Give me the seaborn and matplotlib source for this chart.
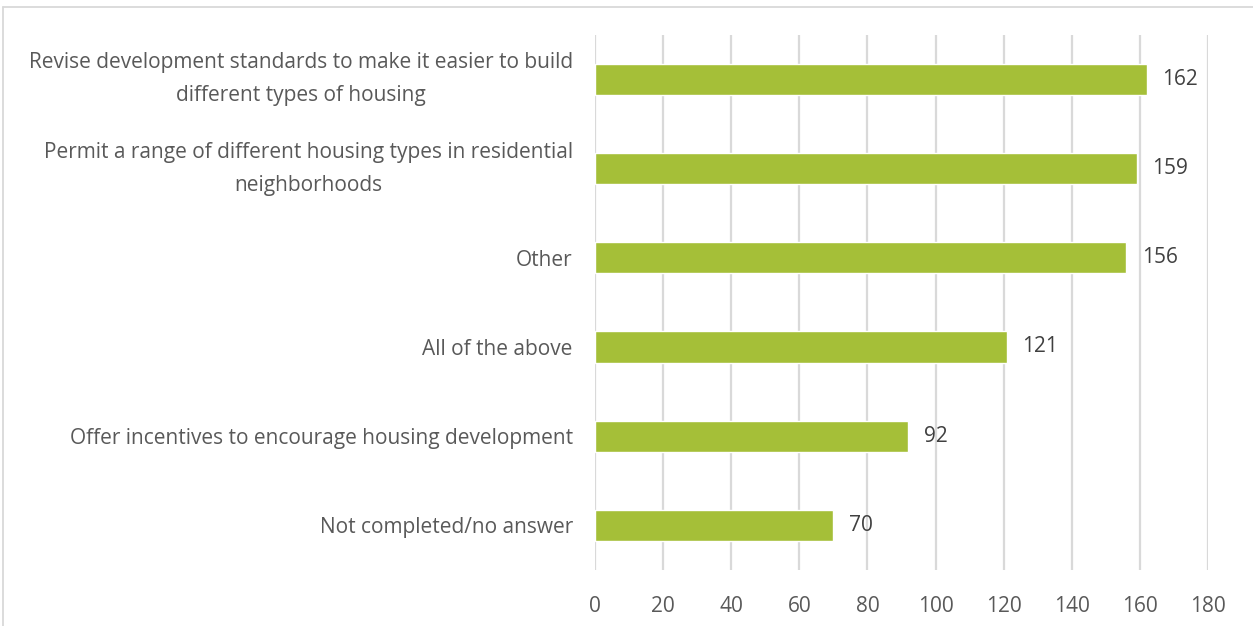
import matplotlib
matplotlib.use("Agg")
import matplotlib.pyplot as plt
import seaborn as sns
import pandas as pd

categories = [
    "Revise development standards to make it easier to build\ndifferent types of housing",
    "Permit a range of different housing types in residential\nneighborhoods",
    "Other",
    "All of the above",
    "Offer incentives to encourage housing development",
    "Not completed/no answer",
]
counts = [162, 159, 156, 121, 92, 70]
x_ticks = [0, 20, 40, 60, 80, 100, 120, 140, 160, 180]

df = pd.DataFrame({"category": categories, "count": counts})

sns.set_theme(style="white")
plt.rcParams["font.family"] = ["Open Sans", "DejaVu Sans"]

fig = plt.figure(figsize=(12.53, 6.26), dpi=100)
ax = fig.add_axes([0.4749, 0.0895, 0.4892, 0.855])

sns.barplot(data=df, x="count", y="category", color="#A5BF38", saturation=1,
            width=0.35, ax=ax, orient="h")

ax.set_xlim(0, 180)
ax.set_xticks(x_ticks)
ax.set_xticklabels([str(t) for t in x_ticks])
ax.set_xlabel("")
ax.set_ylabel("")
ax.grid(axis="x", color="#d9d9d9", linewidth=1.6)
ax.set_axisbelow(True)
for s in ax.spines.values():
    s.set_visible(False)
ax.tick_params(axis="both", length=0, labelsize=15, colors="#595959")
ax.tick_params(axis="x", pad=19)
ax.tick_params(axis="y", pad=16)
for lab in ax.get_yticklabels():
    lab.set_multialignment("center")
    lab.set_linespacing(1.75)
    if "\n" in lab.get_text():
        lab.set_verticalalignment("center")

for p, v in zip(ax.patches, counts):
    ax.annotate(str(v), (p.get_width(), p.get_y() + p.get_height() / 2),
                xytext=(11, 0), textcoords="offset points",
                va="center", ha="left", fontsize=15, color="#404040")

# frame edges of the chart area
fig.add_artist(plt.Line2D([0.0024, 1.0], [0.989, 0.989], color="#d9d9d9",
                          linewidth=1.3, transform=fig.transFigure))
fig.add_artist(plt.Line2D([0.0024, 0.0024], [0.0, 0.989], color="#d9d9d9",
                          linewidth=1.3, transform=fig.transFigure))

fig.savefig("out.png", dpi=100)
